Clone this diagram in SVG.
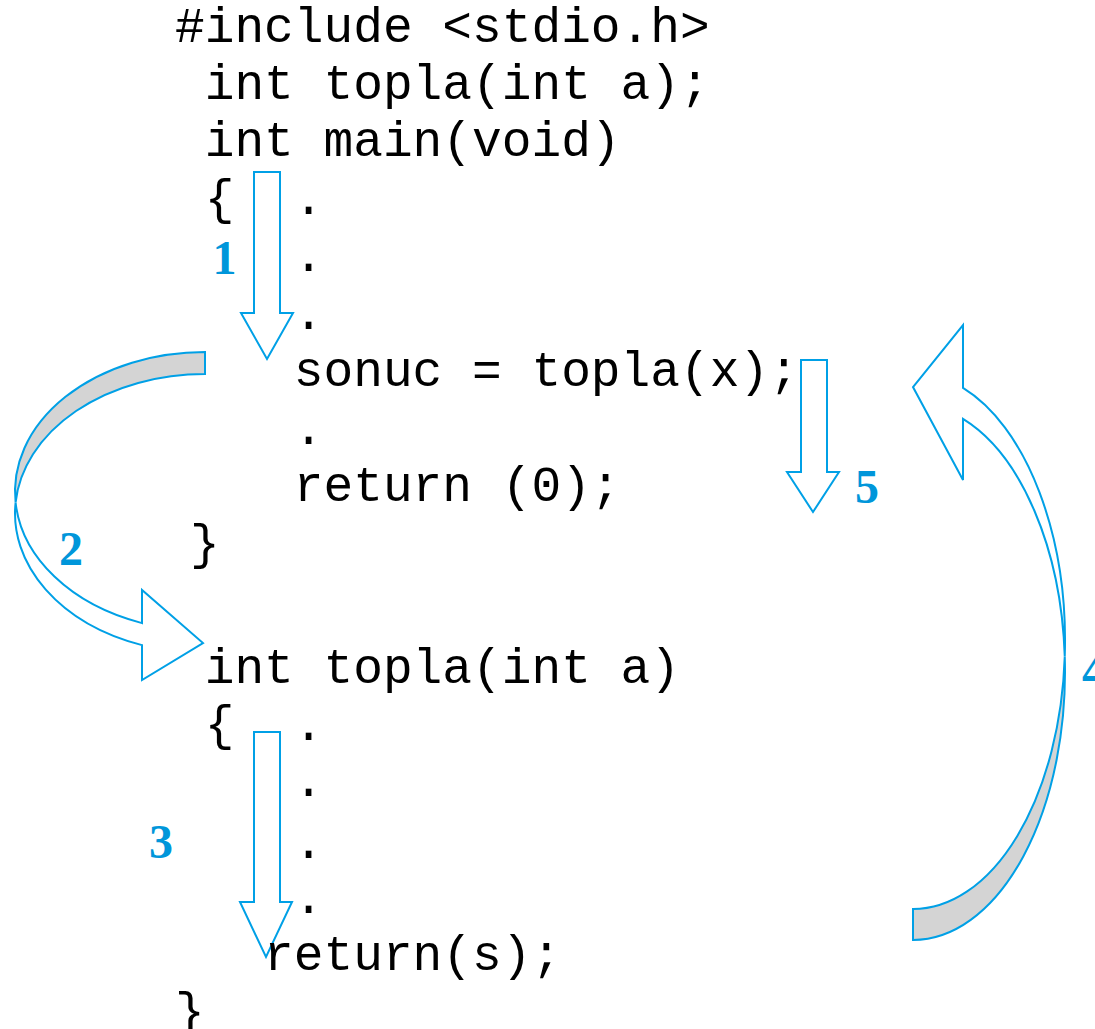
<svg xmlns="http://www.w3.org/2000/svg" width="1095" height="1029" viewBox="0 0 1095 1029">
  <style>
    .code { font-family: "Liberation Mono", "Courier New", monospace; font-size: 49.5px; fill: #000; white-space: pre; }
    .num { font-family: "Liberation Serif", "Times New Roman", serif; font-weight: bold; font-size: 48px; fill: #0096da; text-anchor: middle; }
    .arrow { fill: #fff; stroke: #00a0e6; stroke-width: 2; stroke-linejoin: miter; }
    .back { fill: #d4d4d4; stroke: #00a0e6; stroke-width: 2; stroke-linejoin: miter; }
  </style>
  <rect width="1095" height="1029" fill="#fff"/>

  <!-- flow arrows -->
  <g id="connectors">
    <!-- 1: down through main -->
    <path id="arrow-1" class="arrow" d="M254,172 H280 V313 H293 L267,359 L241,313 H254 Z"/>
    <!-- 2: call jumps into topla (curved ribbon, back side shaded) -->
    <g id="arrow-2">
      <path class="back" d="M205,352 A190,139.5 0 0 0 15.6,502.5 A190,139.5 0 0 1 205,374 Z"/>
      <path class="arrow" d="M15.6,502.5 A190,139.5 0 0 0 142,623.1 L142,590 L203,643 L142,680 L142,645.1 A190,139.5 0 0 1 15.6,502.5 Z"/>
    </g>
    <!-- 3: down through topla -->
    <path id="arrow-3" class="arrow" d="M254,732 H280 V902 H292 L266,957 L240,902 H254 Z"/>
    <!-- 4: return back to the caller -->
    <g id="arrow-4">
      <path class="back" d="M913,909 A152,268 0 0 0 1064.75,656.5 A152,268 0 0 1 913,940 Z"/>
      <path class="arrow" d="M1064.75,656.5 A152,268 0 0 0 963,387.9 L963,325 L913,387 L963,480 L963,418.9 A152,268 0 0 1 1064.75,656.5 Z"/>
    </g>
    <!-- 5: continue in main -->
    <path id="arrow-5" class="arrow" d="M801,360 H827 V472 H839 L813,512 L787,472 H801 Z"/>
  </g>

  <!-- step numbers -->
  <g id="labels">
    <text class="num" x="224.5" y="274">1</text>
    <text class="num" x="71" y="565">2</text>
    <text class="num" x="161" y="858">3</text>
    <text class="num" x="867" y="503">5</text>
    <text class="num" x="1082" y="687" style="text-anchor:start">4</text>
  </g>

  <!-- main program -->
  <g id="main-block">
    <text class="code" x="175" y="42">#include &lt;stdio.h&gt;</text>
    <text class="code" x="204.7" y="99">int topla(int a);</text>
    <text class="code" x="204.7" y="156">int main(void)</text>
    <text class="code" x="204.7" y="214">{  .</text>
    <text class="code" x="293.8" y="271">.</text>
    <text class="code" x="293.8" y="328.5">.</text>
    <text class="code" x="293.8" y="386">sonuc = topla(x);</text>
    <text class="code" x="293.8" y="443.5">.</text>
    <text class="code" x="293.8" y="501">return (0);</text>
    <text class="code" x="190" y="558.5">}</text>
  </g>

  <!-- topla function -->
  <g id="topla-block">
    <text class="code" x="204.7" y="682.5">int topla(int a)</text>
    <text class="code" x="204.7" y="740">{  .</text>
    <text class="code" x="293.8" y="796">.</text>
    <text class="code" x="293.8" y="858">.</text>
    <text class="code" x="293.8" y="913">.</text>
    <text class="code" x="264.1" y="970">return(s);</text>
    <text class="code" x="175" y="1027">}</text>
  </g>
</svg>
